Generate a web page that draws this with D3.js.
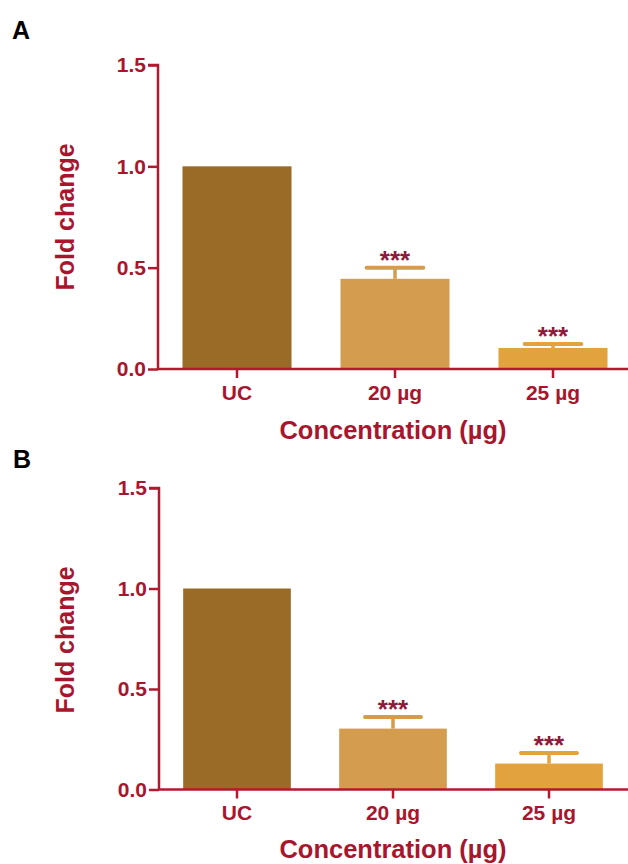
<!DOCTYPE html>
<html>
<head>
<meta charset="utf-8">
<script src="https://cdn.jsdelivr.net/npm/d3@7"></script>
<style>
  html, body { margin: 0; padding: 0; background: #fff; }
  svg text { font-family: "Liberation Sans", Arial, sans-serif; font-weight: bold; }
</style>
</head>
<body>
<svg id="fig" width="628" height="864"></svg>
<script>
// Gene expression fold change by treatment concentration (two panels)
const categories = ["UC", "20 µg", "25 µg"];
const yTicks = [0.0, 0.5, 1.0, 1.5];
const panelLabels = ["A", "B"];

const meansA = [1.0, 0.445, 0.104];
const errorsA = [0, 0.055, 0.019];
const starsA = ["", "***", "***"];

const meansB = [1.0, 0.303, 0.129];
const errorsB = [0, 0.058, 0.053];
const starsB = ["", "***", "***"];

const barColors = ["#9a6a27", "#d39c4e", "#e2a23d"];
const axisColor = "#b3182f";
const textColor = "#a8162e";
const starColor = "#8e1b3c";

const svg = d3.select("#fig");

function drawPanel(opts) {
  const { label, means, errors, stars, x0, x1, y0, y15, labelPos, yLabelY, xLabelY } = opts;
  const g = svg.append("g");

  const x = d3.scaleBand().domain(categories).range([x0, x1])
    .paddingInner(0.31).paddingOuter(0.155);
  const y = d3.scaleLinear().domain([0, 1.5]).range([y0, y15]);

  // panel letter
  g.append("text").attr("x", labelPos[0]).attr("y", labelPos[1])
    .attr("font-size", 25).attr("fill", "#000").text(label);

  // bars
  g.selectAll("rect.bar").data(means).join("rect")
    .attr("class", "bar")
    .attr("x", (d, i) => x(categories[i]))
    .attr("width", x.bandwidth())
    .attr("y", d => y(d))
    .attr("height", d => y(0) - y(d))
    .attr("fill", (d, i) => barColors[i]);

  // error bars (upper only) with significance stars
  const capW = x.bandwidth() * 0.52;
  means.forEach((m, i) => {
    if (!errors[i]) return;
    const cx = x(categories[i]) + x.bandwidth() / 2;
    g.append("line").attr("x1", cx).attr("x2", cx)
      .attr("y1", y(m)).attr("y2", y(m + errors[i]))
      .attr("stroke", barColors[i]).attr("stroke-width", 3.5);
    g.append("line").attr("x1", cx - capW / 2).attr("x2", cx + capW / 2)
      .attr("y1", y(m + errors[i])).attr("y2", y(m + errors[i]))
      .attr("stroke", barColors[i]).attr("stroke-width", 4).attr("stroke-linecap", "round");
    if (stars[i]) {
      g.append("text").attr("x", cx).attr("y", y(m + errors[i]) + 1)
        .attr("text-anchor", "middle").attr("font-size", 26)
        .attr("fill", starColor).text(stars[i]);
    }
  });

  // y axis
  const yAxis = g.append("g").attr("transform", `translate(${x0},0)`)
    .call(d3.axisLeft(y).tickValues(yTicks).tickFormat(d3.format(".1f"))
      .tickSize(10).tickPadding(2));
  yAxis.select(".domain").attr("stroke", axisColor).attr("stroke-width", 2.5)
    .attr("d", `M-10,${y15}H0V${y0}`);
  yAxis.selectAll(".tick line").attr("stroke", axisColor).attr("stroke-width", 2.5);
  yAxis.selectAll(".tick text").attr("fill", textColor).attr("font-size", 21)
    .attr("font-family", "Liberation Sans, Arial, sans-serif");

  // x axis
  const xAxis = g.append("g").attr("transform", `translate(0,${y0})`)
    .call(d3.axisBottom(x).tickSize(9).tickPadding(7));
  xAxis.select(".domain").attr("stroke", axisColor).attr("stroke-width", 2.5)
    .attr("d", `M${x0},0H628`);
  xAxis.selectAll(".tick line").attr("stroke", axisColor).attr("stroke-width", 2.5);
  xAxis.selectAll(".tick text").attr("fill", textColor).attr("font-size", 21)
    .attr("font-family", "Liberation Sans, Arial, sans-serif");

  // axis titles
  g.append("text")
    .attr("transform", `translate(74,${yLabelY}) rotate(-90)`)
    .attr("text-anchor", "middle").attr("font-size", 25)
    .attr("fill", textColor).text("Fold change");
  g.append("text").attr("x", 393).attr("y", xLabelY)
    .attr("text-anchor", "middle").attr("font-size", 25.5)
    .attr("fill", textColor).text("Concentration (\u00b5g)");
}

drawPanel({
  label: panelLabels[0], means: meansA, errors: errorsA, stars: starsA,
  x0: 158, x1: 632, y0: 369, y15: 65,
  labelPos: [12, 39], yLabelY: 217, xLabelY: 439
});

drawPanel({
  label: panelLabels[1], means: meansB, errors: errorsB, stars: starsB,
  x0: 159, x1: 627, y0: 789.5, y15: 488,
  labelPos: [13, 468], yLabelY: 640, xLabelY: 858
});
</script>
</body>
</html>
